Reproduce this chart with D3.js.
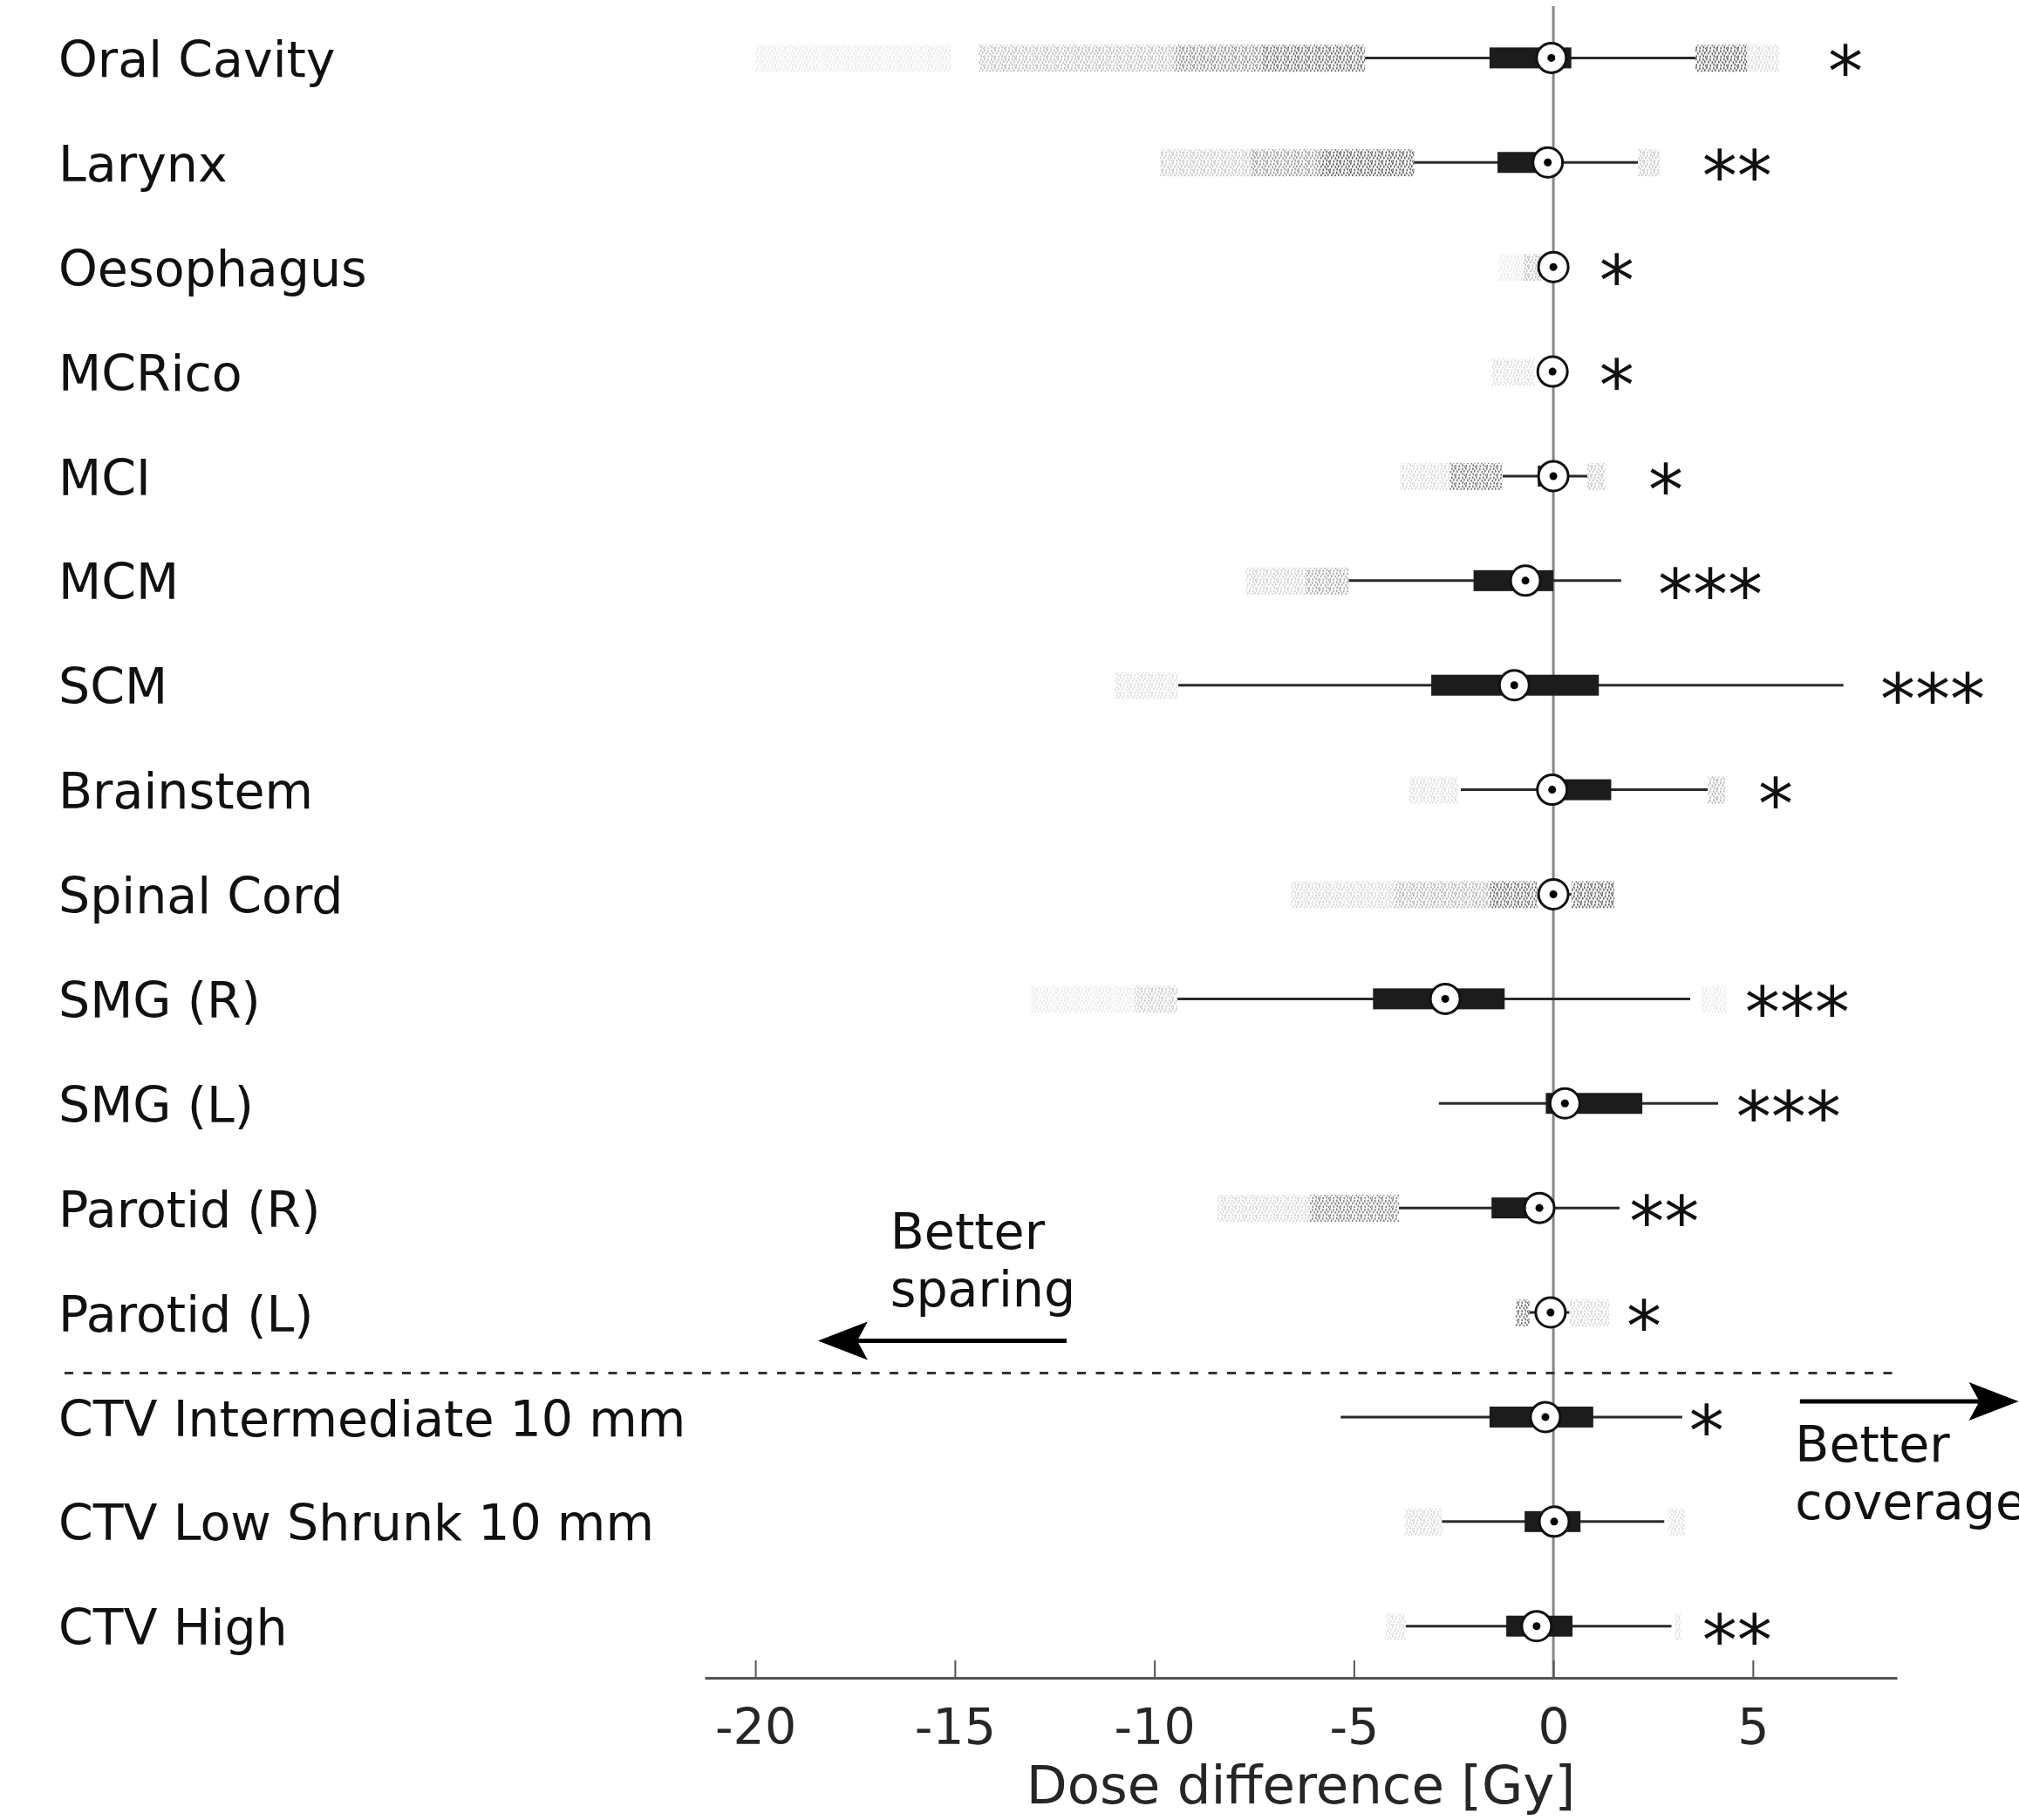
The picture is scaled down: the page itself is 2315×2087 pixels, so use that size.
<!DOCTYPE html>
<html>
<head>
<meta charset="utf-8">
<script src="https://cdn.jsdelivr.net/npm/d3@7"></script>
<style>
  body { margin: 0; background: #fff; }
  svg { display: block; }
</style>
</head>
<body>
<script>
// rows, top to bottom
const categories = ['Oral Cavity', 'Larynx', 'Oesophagus', 'MCRico', 'MCI', 'MCM', 'SCM',
  'Brainstem', 'Spinal Cord', 'SMG (R)', 'SMG (L)', 'Parotid (R)', 'Parotid (L)',
  'CTV Intermediate 10 mm', 'CTV Low Shrunk 10 mm', 'CTV High']

// box plot stats [Gy]
const whiskerLo = [-4.72, -3.49, -0.3, -0.3, -1.27, -5.13, -9.4, -2.32, -0.4, -9.42, -2.87, -3.87, -0.6, -5.33, -2.79, -3.7]
const q1 = [-1.6, -1.4, -0.05, -0.05, -0.39, -2.0, -3.06, -0.1, -0.1, -4.52, -0.19, -1.55, -0.2, -1.6, -0.72, -1.18]
const median = [-0.05, -0.14, 0.0, -0.02, 0.0, -0.7, -0.98, -0.03, 0.0, -2.71, 0.29, -0.35, -0.07, -0.2, 0.02, -0.42]
const q3 = [0.45, -0.05, 0.05, 0.05, 0.05, 0.0, 1.14, 1.45, 0.1, -1.22, 2.23, -0.3, 0.05, 1.0, 0.68, 0.48]
const whiskerHi = [3.56, 2.12, 0.2, 0.2, 0.85, 1.7, 7.27, 3.87, 0.45, 3.43, 4.13, 1.66, 0.4, 3.23, 2.78, 2.96]

// outlier clouds per row: [from, to, density]
const outlierBands = [
  [[-20.0, -15.1, 0.12], [-14.4, -9.5, 0.35], [-9.5, -7.3, 0.6], [-7.3, -4.72, 0.8], [3.56, 4.85, 0.85], [4.85, 5.65, 0.2]],
  [[-9.85, -7.6, 0.3], [-7.6, -5.85, 0.55], [-5.85, -3.49, 0.85], [2.12, 2.67, 0.3]],
  [[-1.37, -0.75, 0.12], [-0.75, -0.3, 0.35]],
  [[-1.55, -0.46, 0.18]],
  [[-3.84, -2.6, 0.2], [-2.6, -1.27, 0.7], [0.85, 1.3, 0.3]],
  [[-7.7, -6.2, 0.25], [-6.2, -5.13, 0.45]],
  [[-11.0, -9.4, 0.18]],
  [[-3.6, -2.39, 0.18], [3.87, 4.3, 0.4]],
  [[-6.57, -4.0, 0.22], [-4.0, -1.6, 0.4], [-1.6, -0.4, 0.8], [0.45, 1.53, 0.85]],
  [[-13.1, -10.5, 0.12], [-10.5, -9.42, 0.28], [3.71, 4.35, 0.12]],
  [],
  [[-8.43, -6.1, 0.22], [-6.1, -3.87, 0.65]],
  [[-0.94, -0.6, 0.75], [0.41, 1.4, 0.22]],
  [],
  [[-3.73, -2.79, 0.22], [2.88, 3.3, 0.18]],
  [[-4.2, -3.7, 0.18], [3.05, 3.2, 0.18]]
]

// significance marks and where they start [Gy]
const stars = ['*', '**', '*', '*', '*', '***', '***', '*', '', '***', '***', '**', '*', '*', '', '**']
const starAt = [6.97, 3.82, 1.24, 1.24, 2.47, 2.71, 8.28, 5.22, 0, 4.89, 4.67, 1.99, 1.92, 3.49, 0, 3.82]

const tickValues = [-20, -15, -10, -5, 0, 5]
const separatorAt = 12.58 // between organs and CTVs, in row units

const W = 2315
const H = 2087
const font = 'DejaVu Sans'
const fs = 57

const svg = d3.select('body').append('svg')
  .attr('width', W)
  .attr('height', H)
  .style('background', '#fff')

const x = d3.scaleLinear().domain([-21.27, 8.61]).range([808, 2175])
const y = d3.scaleLinear().domain([0, categories.length - 1]).range([66.4, 1864.7])
const axisY = 1924

// stipple for the jittered outliers
const defs = svg.append('defs')
const pat = defs.append('pattern')
  .attr('id', 'speck')
  .attr('width', 12).attr('height', 10)
  .attr('patternUnits', 'userSpaceOnUse')
const specks = [[0, 0], [4, 1], [8, 0.5], [2, 3.5], [6.5, 4], [10, 3], [0.5, 7], [4.5, 7.5], [8.5, 6.5], [11, 8]]
pat.selectAll('rect')
  .data(specks)
  .join('rect')
  .attr('x', d => d[0]).attr('y', d => d[1])
  .attr('width', 1.6).attr('height', 2.6)
  .attr('fill', '#3a3a3a')

// zero line
svg.append('line')
  .attr('x1', x(0)).attr('x2', x(0))
  .attr('y1', 7).attr('y2', axisY)
  .attr('stroke', '#888').attr('stroke-width', 3)

// x axis
const ax = svg.append('g')
  .attr('transform', `translate(0,${axisY})`)
  .call(d3.axisBottom(x)
    .tickValues(tickValues)
    .tickSizeInner(-20)
    .tickSizeOuter(0)
    .tickPadding(36)
    .tickFormat(d => String(d)))
ax.select('.domain').attr('stroke', '#555').attr('stroke-width', 3)
ax.selectAll('.tick line').attr('stroke', '#555').attr('stroke-width', 2)
ax.selectAll('.tick text')
  .attr('font-family', font).attr('font-size', fs).attr('fill', '#262626')

svg.append('text')
  .attr('x', (x.range()[0] + x.range()[1]) / 2)
  .attr('y', 2068)
  .attr('text-anchor', 'middle')
  .attr('font-family', font).attr('font-size', 61).attr('fill', '#262626')
  .text('Dose difference [Gy]')

// row labels
svg.append('g').selectAll('text')
  .data(categories)
  .join('text')
  .attr('x', 67)
  .attr('y', (d, i) => y(i))
  .attr('dy', '0.38em')
  .attr('font-family', font).attr('font-size', fs).attr('fill', '#111')
  .text(d => d)

// separator
svg.append('line')
  .attr('x1', 74).attr('x2', x.range()[1])
  .attr('y1', y(separatorAt)).attr('y2', y(separatorAt))
  .attr('stroke', '#333').attr('stroke-width', 3)
  .attr('stroke-dasharray', '10,11.5')

const rows = categories.map((c, i) => ({
  i, lo: whiskerLo[i], q1: q1[i], med: median[i], q3: q3[i], hi: whiskerHi[i], bands: outlierBands[i]
}))

const g = svg.append('g').selectAll('g')
  .data(rows)
  .join('g')
  .attr('transform', d => `translate(0,${y(d.i)})`)

g.selectAll('rect.out')
  .data(d => d.bands)
  .join('rect')
  .attr('class', 'out')
  .attr('x', b => x(b[0]))
  .attr('width', b => x(b[1]) - x(b[0]))
  .attr('y', -15).attr('height', 31)
  .attr('fill', 'url(#speck)')
  .attr('fill-opacity', b => b[2])

g.append('line')
  .attr('x1', d => x(d.lo)).attr('x2', d => x(d.hi))
  .attr('stroke', '#2a2a2a').attr('stroke-width', 3)

g.append('rect')
  .attr('x', d => x(d.q1))
  .attr('width', d => x(d.q3) - x(d.q1))
  .attr('y', -12).attr('height', 24)
  .attr('fill', '#1c1c1c')

g.append('circle')
  .attr('cx', d => x(d.med))
  .attr('r', 17)
  .attr('fill', '#fff').attr('stroke', '#111').attr('stroke-width', 3)

g.append('circle')
  .attr('cx', d => x(d.med))
  .attr('r', 4.5)
  .attr('fill', '#000')

// significance
g.filter(d => stars[d.i])
  .append('text')
  .attr('x', d => x(starAt[d.i]) - 4)
  .attr('y', 44)
  .attr('font-family', font).attr('font-size', 80).attr('fill', '#111')
  .text(d => stars[d.i])

// direction arrows
function arrow (fromGy, toGy, rowPos) {
  const x1 = x(fromGy)
  const x2 = x(toGy)
  const yy = y(rowPos)
  const dir = Math.sign(x2 - x1)
  const len = 57
  const hw = 22
  const notch = 12
  svg.append('line')
    .attr('x1', x1).attr('x2', x2 - dir * (len - notch))
    .attr('y1', yy).attr('y2', yy)
    .attr('stroke', '#000').attr('stroke-width', 5)
  const p = d3.path()
  p.moveTo(x2, yy)
  p.lineTo(x2 - dir * len, yy - hw)
  p.lineTo(x2 - dir * (len - notch), yy)
  p.lineTo(x2 - dir * len, yy + hw)
  p.closePath()
  svg.append('path').attr('d', p.toString()).attr('fill', '#000')
}

arrow(-12.2, -18.43, 12.27)
arrow(6.18, 11.66, 12.85)

function note (gx, rowPos, lines) {
  const t = svg.append('text')
    .attr('x', x(gx))
    .attr('y', y(rowPos))
    .attr('font-family', font).attr('font-size', fs).attr('fill', '#111')
  lines.forEach((s, k) => {
    t.append('tspan').attr('x', x(gx)).attr('dy', k ? 66 : 0).text(s)
  })
}

note(-16.62, 11.39, ['Better', 'sparing'])
note(6.06, 13.43, ['Better', 'coverage'])
</script>
</body>
</html>
